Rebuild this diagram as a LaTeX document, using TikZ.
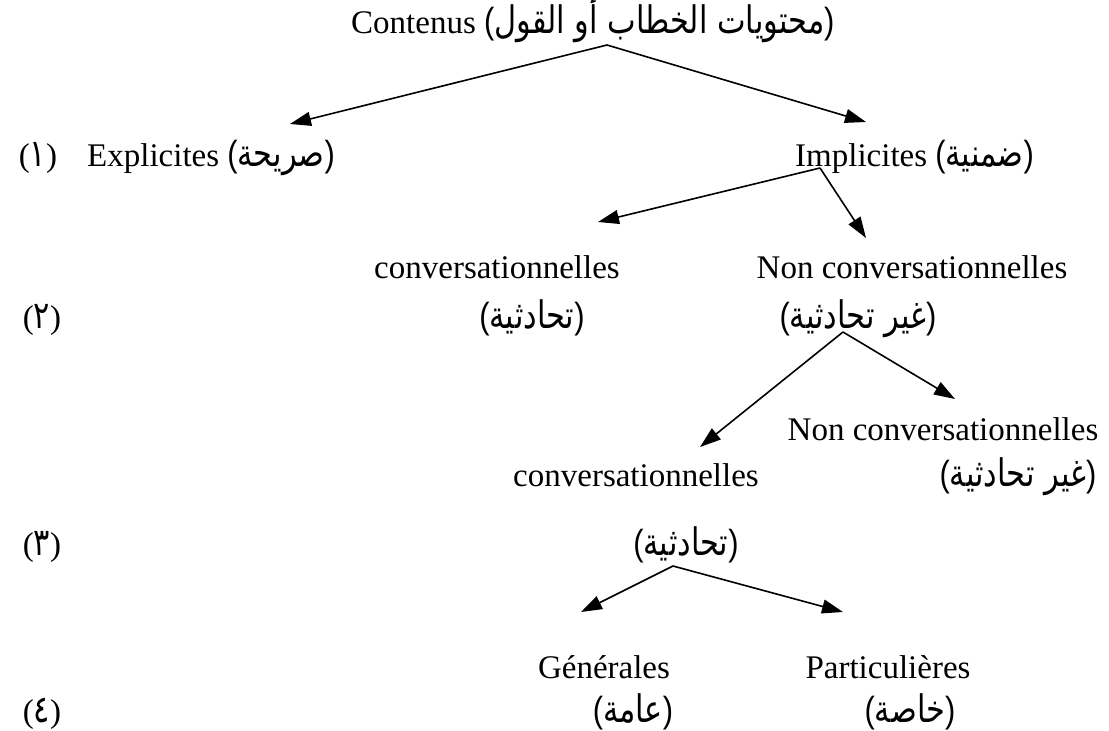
\documentclass[tikz,border=0pt]{standalone}
\usepackage{fontspec}
\setmainfont{Liberation Serif}
\newfontfamily\arabicfont[Script=Arabic, Scale=1.15, FakeStretch=0.8]{DejaVu Sans}
\newfontfamily\parenfont[Scale=1.1, FakeStretch=0.85]{Liberation Sans}
\TeXXeTstate=1
\usetikzlibrary{arrows.meta}

\newcommand{\arb}[1]{{\arabicfont\beginR #1\endR}}
\newcommand{\arp}[1]{{\parenfont(}\arb{#1}{\parenfont)}}

\begin{document}
\begin{tikzpicture}[x=1pt, y=-1pt,
  lbl/.style={anchor=base, inner sep=0pt, font=\fontsize{33}{40}\selectfont},
  lft/.style={lbl, anchor=base west},
  link/.style={line width=1.6pt, -{Triangle[length=21pt, width=14pt]}}
]
  \useasboundingbox (0,0) rectangle (1109,731);

  % level 0
  \node[lft] (ct) at (351, 33) {Contenus \arp{محتويات الخطاب أو القول}};

  % level 1
  \node[lbl] (n1) at (38, 166)  {(\arb{١})};
  \node[lft] (ex) at (87, 166)  {Explicites \arp{صريحة}};
  \node[lft] (im) at (795, 166) {Implicites \arp{ضمنية}};

  % level 2
  \node[lbl] (n2)  at (42, 328)  {(\arb{٢})};
  \node[lbl] (cv1) at (497, 278) {conversationnelles};
  \node[lbl] (ca1) at (532, 328) {\arp{تحادثية}};
  \node[lbl] (nc1) at (912, 278) {Non conversationnelles};
  \node[lbl] (na1) at (858, 328) {\arp{غير تحادثية}};

  % level 3
  \node[lbl] (n3)  at (42, 555)   {(\arb{٣})};
  \node[lbl] (nc2) at (943, 440)  {Non conversationnelles};
  \node[lbl] (na2) at (1018, 486) {\arp{غير تحادثية}};
  \node[lbl] (cv2) at (636, 486)  {conversationnelles};
  \node[lbl] (ca2) at (686, 555)  {\arp{تحادثية}};

  % level 4
  \node[lbl] (n4) at (42, 722)  {(\arb{٤})};
  \node[lbl] (ge) at (604, 678) {Générales};
  \node[lbl] (pa) at (888, 678) {Particulières};
  \node[lbl] (ga) at (633, 722) {\arp{عامة}};
  \node[lbl] (pt) at (910, 722) {\arp{خاصة}};

  % split points and arrow ends
  \coordinate (ct-s) at (607, 45);
  \coordinate (ex-n) at (290, 124);
  \coordinate (im-n) at (866, 122);
  \coordinate (im-s) at (820, 168);
  \coordinate (cv1-n) at (598, 222);
  \coordinate (nc1-n) at (866, 238);
  \coordinate (na1-s) at (843, 332);
  \coordinate (cv2-n) at (700, 447);
  \coordinate (nc2-n) at (955, 399);
  \coordinate (ca2-s) at (673, 566);
  \coordinate (ge-n) at (581, 612);
  \coordinate (pa-n) at (843, 612);

  \draw[link] (ct-s) -- (ex-n);
  \draw[link] (ct-s) -- (im-n);
  \draw[link] (im-s) -- (cv1-n);
  \draw[link] (im-s) -- (nc1-n);
  \draw[link] (na1-s) -- (cv2-n);
  \draw[link] (na1-s) -- (nc2-n);
  \draw[link] (ca2-s) -- (ge-n);
  \draw[link] (ca2-s) -- (pa-n);
\end{tikzpicture}
\end{document}
